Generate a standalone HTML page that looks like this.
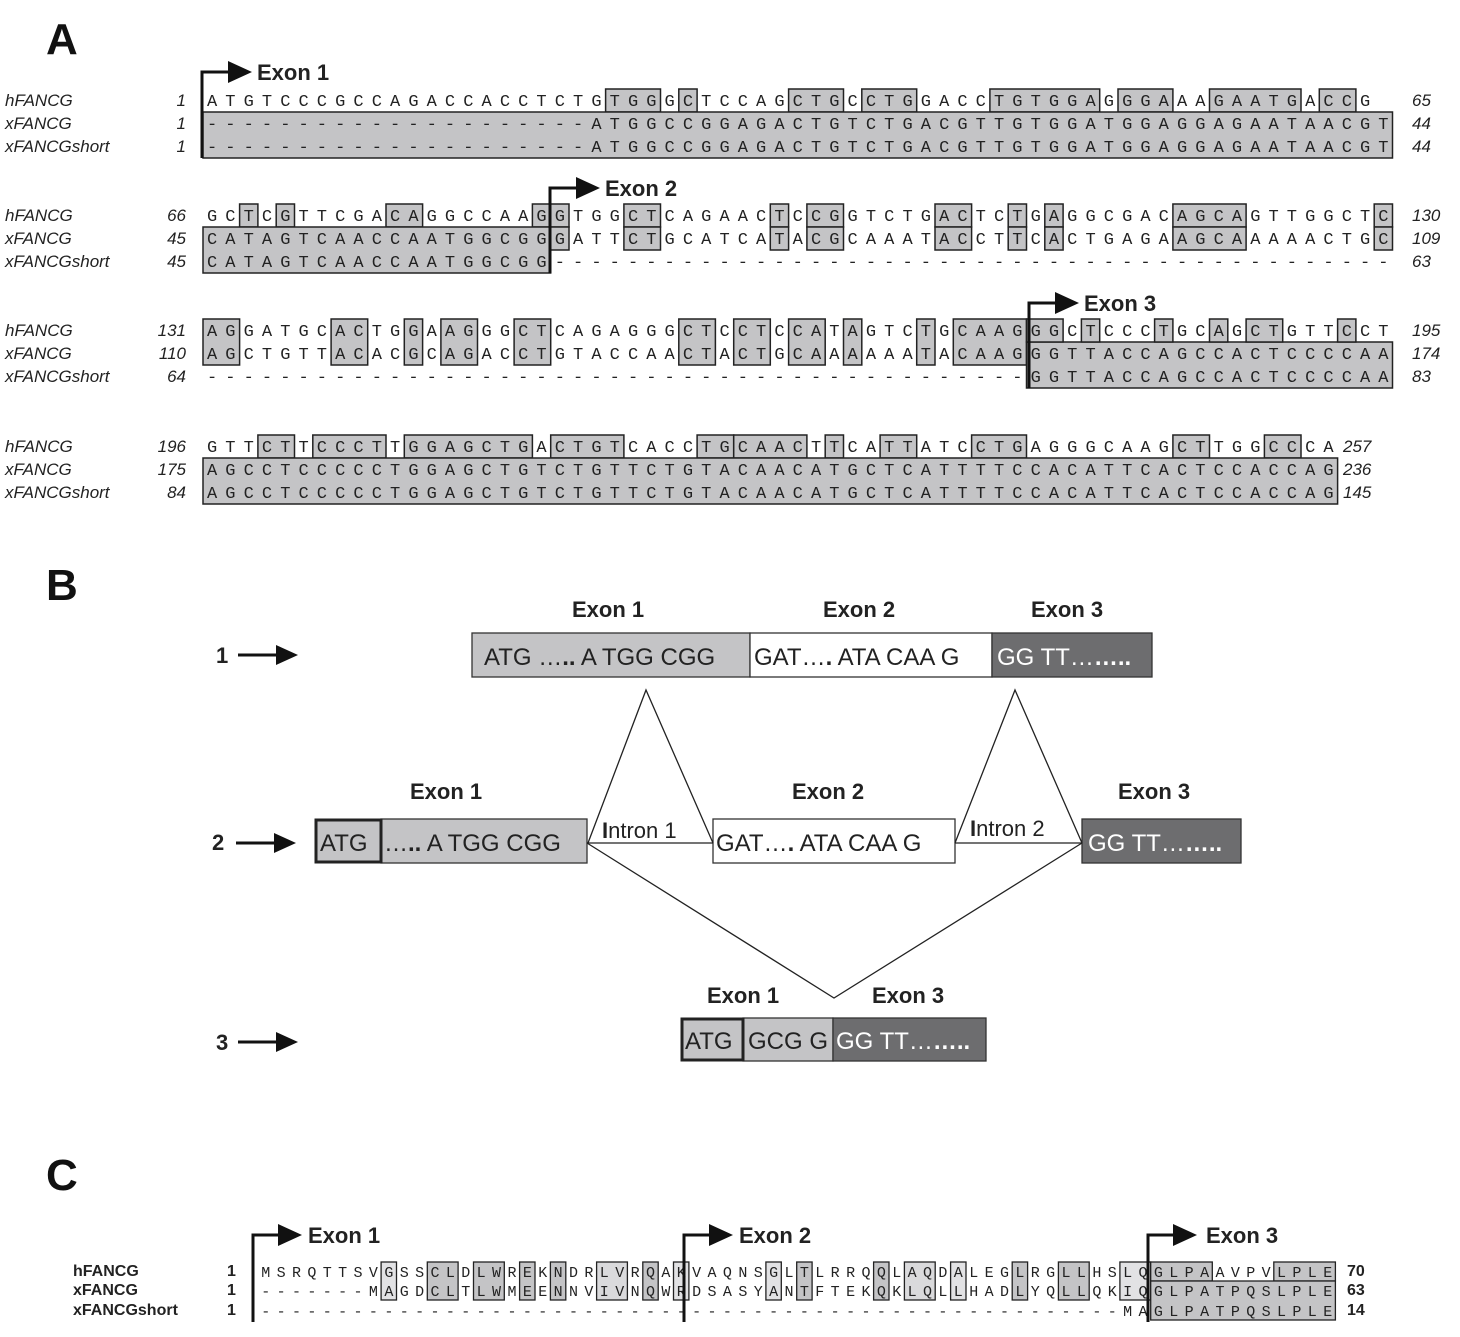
<!DOCTYPE html>
<html><head><meta charset="utf-8"><style>
html,body{margin:0;padding:0;background:#fff}
svg{display:block}
.seq{font-family:"Liberation Mono",monospace;font-size:17px;fill:#222;letter-spacing:8.1px}
.nm{font-family:"Liberation Sans",sans-serif;font-size:17px;font-style:italic;fill:#222}
.nr{font-family:"Liberation Sans",sans-serif;font-size:17px;font-style:italic;fill:#222}
.ex{font-family:"Liberation Sans",sans-serif;font-size:22px;font-weight:bold;fill:#222}
.big{font-family:"Liberation Sans",sans-serif;font-size:44px;font-weight:bold;fill:#111}
.bt{font-family:"Liberation Sans",sans-serif;font-size:24px;fill:#222}
.cs{font-family:"Liberation Mono",monospace;font-size:15px;fill:#222;letter-spacing:6.39px}
.cn{font-family:"Liberation Sans",sans-serif;font-size:16px;font-weight:bold;fill:#222}
</style></head><body>
<svg width="1460" height="1337" viewBox="0 0 1460 1337" xmlns="http://www.w3.org/2000/svg">
<text class="big" x="46" y="54">A</text>
<text class="big" x="46" y="600">B</text>
<text class="big" x="46" y="1190">C</text>

<g fill="#c4c4c6" stroke="#222" stroke-width="1.5">
<rect x="605.6" y="89" width="54.9" height="23"/><rect x="678.8" y="89" width="18.3" height="23"/>
<rect x="788.6" y="89" width="54.9" height="23"/><rect x="861.8" y="89" width="54.9" height="23"/>
<rect x="989.9" y="89" width="109.8" height="23"/><rect x="1118" y="89" width="54.9" height="23"/>
<rect x="1209.5" y="89" width="91.5" height="23"/><rect x="1319.3" y="89" width="36.6" height="23"/>
<rect x="203" y="112" width="1189.5" height="46"/>
<rect x="239.6" y="204" width="18.3" height="23"/><rect x="276.2" y="204" width="18.3" height="23"/>
<rect x="386" y="204" width="36.6" height="23"/><rect x="532.4" y="204" width="36.6" height="23"/>
<rect x="623.9" y="204" width="36.6" height="23"/><rect x="770.3" y="204" width="18.3" height="23"/>
<rect x="806.9" y="204" width="36.6" height="23"/><rect x="935" y="204" width="36.6" height="23"/>
<rect x="1008.2" y="204" width="18.3" height="23"/><rect x="1044.8" y="204" width="18.3" height="23"/>
<rect x="1172.9" y="204" width="73.2" height="23"/><rect x="1374.2" y="204" width="18.3" height="23"/>
<rect x="203" y="227" width="347.7" height="46"/><rect x="550.7" y="227" width="18.3" height="23"/>
<rect x="623.9" y="227" width="36.6" height="23"/><rect x="770.3" y="227" width="18.3" height="23"/>
<rect x="806.9" y="227" width="36.6" height="23"/><rect x="935" y="227" width="36.6" height="23"/>
<rect x="1008.2" y="227" width="18.3" height="23"/><rect x="1044.8" y="227" width="18.3" height="23"/>
<rect x="1172.9" y="227" width="73.2" height="23"/><rect x="1374.2" y="227" width="18.3" height="23"/>
<rect x="203" y="319" width="36.6" height="46"/><rect x="331.1" y="319" width="36.6" height="46"/>
<rect x="404.3" y="319" width="18.3" height="46"/><rect x="440.9" y="319" width="36.6" height="46"/>
<rect x="514.1" y="319" width="36.6" height="46"/><rect x="678.8" y="319" width="36.6" height="46"/>
<rect x="733.7" y="319" width="36.6" height="46"/><rect x="788.6" y="319" width="36.6" height="46"/>
<rect x="843.5" y="319" width="18.3" height="46"/><rect x="916.7" y="319" width="18.3" height="46"/>
<rect x="953.3" y="319" width="73.2" height="46"/>
<rect x="1026.5" y="342" width="366" height="46"/>
<rect x="1026.5" y="319" width="36.6" height="23"/><rect x="1081.4" y="319" width="18.3" height="23"/>
<rect x="1154.6" y="319" width="18.3" height="23"/><rect x="1209.5" y="319" width="18.3" height="23"/>
<rect x="1246.1" y="319" width="36.6" height="23"/><rect x="1337.6" y="319" width="18.3" height="23"/>
<rect x="257.9" y="435" width="36.6" height="23"/><rect x="312.8" y="435" width="73.2" height="23"/>
<rect x="404.3" y="435" width="128.1" height="23"/><rect x="550.7" y="435" width="73.2" height="23"/>
<rect x="697.1" y="435" width="36.6" height="23"/><rect x="733.7" y="435" width="73.2" height="23"/>
<rect x="825.2" y="435" width="18.3" height="23"/><rect x="880.1" y="435" width="36.6" height="23"/>
<rect x="971.6" y="435" width="54.9" height="23"/><rect x="1172.9" y="435" width="36.6" height="23"/>
<rect x="1264.4" y="435" width="36.6" height="23"/>
<rect x="203" y="458" width="1134.6" height="46"/>
</g>

<g class="nm">
<text x="5" y="106">hFANCG</text><text x="5" y="129">xFANCG</text><text x="5" y="152">xFANCGshort</text>
<text x="5" y="221">hFANCG</text><text x="5" y="244">xFANCG</text><text x="5" y="267">xFANCGshort</text>
<text x="5" y="336">hFANCG</text><text x="5" y="359">xFANCG</text><text x="5" y="382">xFANCGshort</text>
<text x="5" y="452">hFANCG</text><text x="5" y="475">xFANCG</text><text x="5" y="498">xFANCGshort</text>
</g>
<g class="nr" text-anchor="end">
<text x="186" y="106">1</text><text x="186" y="129">1</text><text x="186" y="152">1</text>
<text x="186" y="221">66</text><text x="186" y="244">45</text><text x="186" y="267">45</text>
<text x="186" y="336">131</text><text x="186" y="359">110</text><text x="186" y="382">64</text>
<text x="186" y="452">196</text><text x="186" y="475">175</text><text x="186" y="498">84</text>
</g>
<g class="nr">
<text x="1412" y="106">65</text><text x="1412" y="129">44</text><text x="1412" y="152">44</text>
<text x="1412" y="221">130</text><text x="1412" y="244">109</text><text x="1412" y="267">63</text>
<text x="1412" y="336">195</text><text x="1412" y="359">174</text><text x="1412" y="382">83</text>
<text x="1343" y="452">257</text><text x="1343" y="475">236</text><text x="1343" y="498">145</text>
</g>
<g class="seq">
<text x="207" y="106">ATGTCCCGCCAGACCACCTCTGTGGGCTCCAGCTGCCTGGACCTGTGGAGGGAAAGAATGACCG</text>
<text x="207" y="129">---------------------ATGGCCGGAGACTGTCTGACGTTGTGGATGGAGGAGAATAACGT</text>
<text x="207" y="152">---------------------ATGGCCGGAGACTGTCTGACGTTGTGGATGGAGGAGAATAACGT</text>
<text x="207" y="221">GCTCGTTCGACAGGCCAAGGTGGCTCAGAACTCCGGTCTGACTCTGAGGCGACAGCAGTTGGCTC</text>
<text x="207" y="244">CATAGTCAACCAATGGCGGGATTCTGCATCATACGCAAATACCTTCACTGAGAAGCAAAAACTGC</text>
<text x="207" y="267">CATAGTCAACCAATGGCGG----------------------------------------------</text>
<text x="207" y="336">AGGATGCACTGGAAGGGCTCAGAGGGCTCCTCCATAGTCTGCAAGGGCTCCCTGCAGCTGTTCCT</text>
<text x="207" y="359">AGCTGTTACACGCAGACCTGTACCAACTACTGCAAAAAATACAAGGGTTACCAGCCACTCCCCAA</text>
<text x="207" y="382">---------------------------------------------GGTTACCAGCCACTCCCCAA</text>
<text x="207" y="452">GTTCTTCCCTTGGAGCTGACTGTCACCTGCAACTTCATTATCCTGAGGGCAAGCTTGGCCCA</text>
<text x="207" y="475">AGCCTCCCCCTGGAGCTGTCTGTTCTGTACAACATGCTCATTTTCCACATTCACTCCACCAG</text>
<text x="207" y="498">AGCCTCCCCCTGGAGCTGTCTGTTCTGTACAACATGCTCATTTTCCACATTCACTCCACCAG</text>
</g>
<g stroke="#111" stroke-width="3" fill="none">
<path d="M202 158 V72 H230"/><path d="M550 273 V188 H578"/><path d="M1029 388 V303 H1057"/>
</g>
<g fill="#111">
<polygon points="228,61 252,72 228,83"/><polygon points="576,177 600,188 576,199"/><polygon points="1055,292 1079,303 1055,314"/>
</g>
<text class="ex" x="257" y="80">Exon 1</text>
<text class="ex" x="605" y="196">Exon 2</text>
<text class="ex" x="1084" y="311">Exon 3</text>

<g class="ex">
<text x="572" y="617">Exon 1</text><text x="823" y="617">Exon 2</text><text x="1031" y="617">Exon 3</text>
<text x="410" y="799">Exon 1</text><text x="792" y="799">Exon 2</text><text x="1118" y="799">Exon 3</text>
<text x="707" y="1003">Exon 1</text><text x="872" y="1003">Exon 3</text>
<text x="216" y="663">1</text><text x="212" y="850">2</text><text x="216" y="1050">3</text>
</g>
<g stroke="#111" stroke-width="3"><line x1="238" y1="655" x2="278" y2="655"/><line x1="236" y1="843" x2="276" y2="843"/><line x1="238" y1="1042" x2="278" y2="1042"/></g>
<g fill="#111"><polygon points="276,645 298,655 276,665"/><polygon points="274,833 296,843 274,853"/><polygon points="276,1032 298,1042 276,1052"/></g>

<g stroke="#333" stroke-width="1.3">
<rect x="472" y="633" width="278" height="44" fill="#c4c4c6"/>
<rect x="750" y="633" width="242" height="44" fill="#fff"/>
<rect x="992" y="633" width="160" height="44" fill="#6d6d6f"/>
<rect x="381" y="819" width="206" height="44" fill="#c4c4c6"/>
<rect x="713" y="819" width="242" height="44" fill="#fff"/>
<rect x="1082" y="819" width="159" height="44" fill="#6d6d6f"/>
<rect x="743" y="1018" width="90" height="43" fill="#c4c4c6"/>
<rect x="833" y="1018" width="153" height="43" fill="#6d6d6f"/>
</g>
<g stroke="#222" stroke-width="3" fill="#c4c4c6">
<rect x="316" y="820" width="65" height="42"/>
<rect x="682" y="1019" width="61" height="41"/>
</g>
<g stroke="#222" stroke-width="1.3" fill="none">
<polyline points="588,843 646,690 713,843"/>
<polyline points="955,843 1015,690 1082,843"/>
<line x1="587" y1="843" x2="713" y2="843"/>
<line x1="955" y1="843" x2="1082" y2="843"/>
<polyline points="587,843 834,998 1082,843"/>
</g>
<g class="bt">
<text x="484" y="665">ATG …<tspan font-weight="bold">..</tspan> A TGG CGG</text>
<text x="754" y="665">GAT…<tspan font-weight="bold">.</tspan> ATA CAA G</text>
<text x="997" y="665" fill="#fff">GG TT…<tspan font-weight="bold">…..</tspan></text>
<text x="320" y="851">ATG</text>
<text x="384" y="851">…<tspan font-weight="bold">..</tspan> A TGG CGG</text>
<text x="716" y="851">GAT…<tspan font-weight="bold">.</tspan> ATA CAA G</text>
<text x="1088" y="851" fill="#fff">GG TT…<tspan font-weight="bold">…..</tspan></text>
<text x="685" y="1049">ATG</text>
<text x="748" y="1049">GCG G</text>
<text x="836" y="1049" fill="#fff">GG TT…<tspan font-weight="bold">…..</tspan></text>
</g>
<text x="602" y="838" font-family="Liberation Sans, sans-serif" font-size="22" fill="#222"><tspan font-weight="bold">I</tspan>ntron 1</text>
<text x="970" y="836" font-family="Liberation Sans, sans-serif" font-size="22" fill="#222"><tspan font-weight="bold">I</tspan>ntron 2</text>

<g fill="#c4c4c6" stroke="#222" stroke-width="1.3">
<rect x="381.1" y="1262" width="15.4" height="38" fill="#e2e2e4"/>
<rect x="427.3" y="1262" width="30.8" height="38"/>
<rect x="473.5" y="1262" width="30.8" height="38"/>
<rect x="519.6" y="1262" width="15.4" height="38"/>
<rect x="550.4" y="1262" width="15.4" height="38"/>
<rect x="596.6" y="1262" width="30.8" height="38" fill="#dadadc"/>
<rect x="642.8" y="1262" width="15.4" height="38"/>
<rect x="673.5" y="1262" width="15.4" height="38" fill="#e2e2e4"/>
<rect x="765.9" y="1262" width="15.4" height="38" fill="#e2e2e4"/>
<rect x="796.7" y="1262" width="15.4" height="38"/>
<rect x="873.6" y="1262" width="15.4" height="38"/>
<rect x="904.4" y="1262" width="30.8" height="38" fill="#dadadc"/>
<rect x="950.6" y="1262" width="15.4" height="38" fill="#e2e2e4"/>
<rect x="1012.2" y="1262" width="15.4" height="38"/>
<rect x="1058.4" y="1262" width="30.8" height="38"/>
<rect x="1119.9" y="1262" width="30.8" height="38" fill="#e2e2e4"/>
<rect x="1150.7" y="1262" width="61.6" height="19"/>
<rect x="1273.8" y="1262" width="61.6" height="19"/>
<rect x="1150.7" y="1281" width="184.7" height="39"/>
</g>
<g class="cn">
<text x="73" y="1276">hFANCG</text><text x="73" y="1295">xFANCG</text><text x="73" y="1315">xFANCGshort</text>
<text x="227" y="1276">1</text><text x="227" y="1295">1</text><text x="227" y="1315">1</text>
<text x="1347" y="1276">70</text><text x="1347" y="1295">63</text><text x="1347" y="1315">14</text>
</g>
<g class="cs">
<text x="261.2" y="1277">MSRQTTSVGSSCLDLWREKNDRLVRQAKVAQNSGLTLRRQQLAQDALEGLRGLLHSLQGLPAAVPVLPLE</text>
<text x="261.2" y="1296">-------MAGDCLTLWMEENNVIVNQWRDSASYANTFTEKQKLQLLHADLYQLLQKIQGLPATPQSLPLE</text>
<text x="261.2" y="1316">--------------------------------------------------------MAGLPATPQSLPLE</text>
</g>
<g stroke="#111" stroke-width="3" fill="none">
<path d="M253 1322 V1235 H280"/><path d="M684 1322 V1235 H711"/><path d="M1148 1322 V1235 H1175"/>
</g>
<g fill="#111">
<polygon points="278,1224 302,1235 278,1246"/><polygon points="709,1224 733,1235 709,1246"/><polygon points="1173,1224 1197,1235 1173,1246"/>
</g>
<g font-family="Liberation Sans, sans-serif" font-size="22" fill="#222" font-weight="bold">
<text x="308" y="1243">Exon 1</text><text x="739" y="1243">Exon 2</text><text x="1206" y="1243">Exon 3</text>
</g>
</svg>
</body></html>
